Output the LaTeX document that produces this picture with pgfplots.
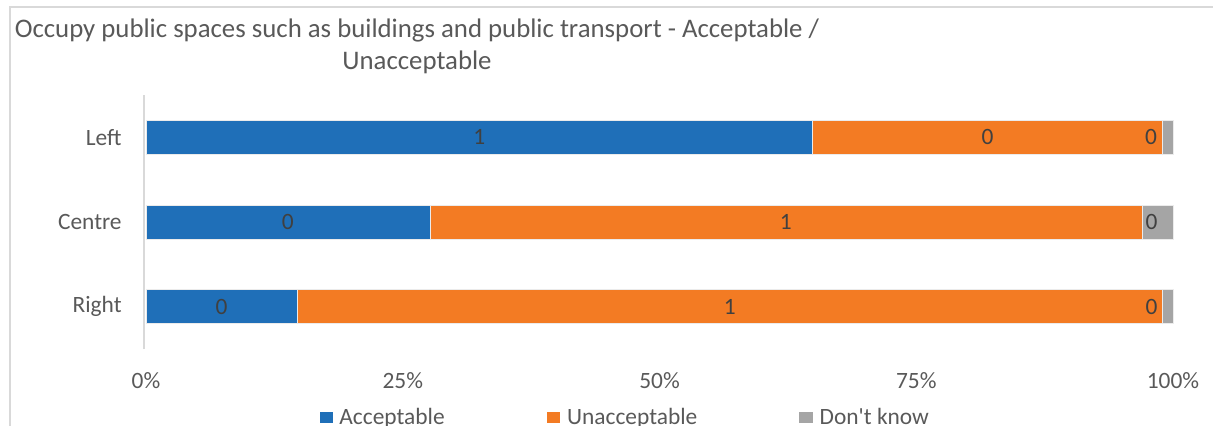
\documentclass[border=0pt]{standalone}
\usepackage{pgfplots}
\pgfplotsset{compat=1.18}
\usepackage{fontspec}
\setmainfont{Carlito}
\newfontfamily\plainfont{Carlito}[Ligatures=TeXOff]
\definecolor{cblue}{HTML}{1F6FB8}
\definecolor{corange}{HTML}{F37B23}
\definecolor{cgrey}{HTML}{A5A5A5}
\definecolor{ctext}{HTML}{595959}
\definecolor{clabel}{HTML}{404040}
\definecolor{cline}{HTML}{D9D9D9}
\begin{document}
\begin{tikzpicture}
\useasboundingbox (0pt,0pt) rectangle (606.5pt,212.5pt);
\draw[cline, line width=1pt] (5pt,-5pt) -- (5pt,209pt) -- (615pt,209pt);
\node[ctext, font=\fontsize{13.4}{16}\selectfont, align=center] at (208.5pt,189.5pt)
  {Occupy public spaces such as buildings and public transport - Acceptable /\\Unacceptable};
\pgfplotsset{myax/.style={at={(73pt,38pt)}, anchor=south west, scale only axis,
  width=513.5pt, height=127pt, xmin=0, xmax=100, ymin=-0.5, ymax=2.5}}
\begin{axis}[myax,
  xbar stacked, bar width=17pt,
  ytick={0,1,2}, yticklabels={Right,Centre,Left},
  xtick={0,25,50,75,100}, xticklabels={0\%,25\%,50\%,75\%,100\%},
  major tick length=0pt,
  axis lines*=left,
  x axis line style={draw=none},
  y axis line style={draw=cline, line width=1pt, -, xshift=-1pt},
  ticklabel style={font=\fontsize{11.7}{14}\selectfont, text=ctext},
  xticklabel style={anchor=center, yshift=-16pt},
  yticklabel style={anchor=east, inner sep=0pt, xshift=-12pt},
  clip=false]
\addplot[fill=cblue, draw=white!92!black, line width=0.4pt] coordinates {(64.9,2) (27.65,1) (14.7,0)};
\addplot[fill=corange, draw=white!92!black, line width=0.4pt] coordinates {(34.1,2) (69.35,1) (84.3,0)};
\addplot[fill=cgrey, draw=white!92!black, line width=0.4pt] coordinates {(1.0,2) (3.0,1) (1.0,0)};
\end{axis}
\begin{axis}[myax, hide axis, clip=false]
\addplot[only marks, mark=none, nodes near coords, point meta=explicit symbolic,
  every node near coord/.append style={anchor=center, text=clabel, font=\fontsize{11.7}{14}\selectfont}]
  table[meta=lab] {
x y lab
32.45 2 1
81.95 2 0
97.86 2 0
13.8 1 0
62.3 1 1
97.9 1 0
7.35 0 0
56.85 0 1
97.9 0 0
};
\end{axis}
% legend
\fill[cblue] (160pt,0.85pt) rectangle (166.35pt,6.65pt);
\node[ctext, anchor=base west, inner sep=0pt, font=\fontsize{11.7}{14}\selectfont] at (169.5pt,0.5pt) {Acceptable};
\fill[corange] (273.65pt,0.85pt) rectangle (280pt,6.65pt);
\node[ctext, anchor=base west, inner sep=0pt, font=\fontsize{11.7}{14}\selectfont] at (283.35pt,0.5pt) {Unacceptable};
\fill[cgrey] (399.65pt,0.85pt) rectangle (406.35pt,6.65pt);
\node[ctext, anchor=base west, inner sep=0pt, font=\plainfont\fontsize{11.7}{14}\selectfont] at (409.65pt,0.5pt) {Don't know};
\end{tikzpicture}
\end{document}
